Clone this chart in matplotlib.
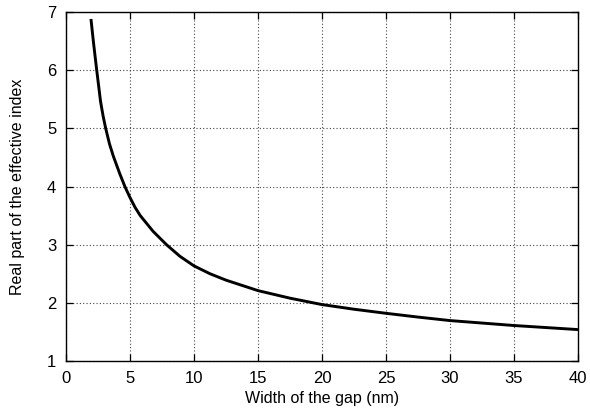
import matplotlib
matplotlib.use("Agg")
import matplotlib.pyplot as plt

plt.rcParams['font.family'] = ['Liberation Sans', 'DejaVu Sans']

# Real part of the effective index versus gap width
gap_nm = [1.95, 2.15, 2.4, 2.7, 2.9, 3.1, 3.4, 3.7, 4.2, 4.6, 5.0, 5.4, 5.8,
          6.8, 7.85, 8.9, 10.0, 11.25, 12.5, 15.0, 17.5, 20.0, 22.5, 25.0,
          27.5, 30.0, 35.0, 40.0]
n_eff = [6.88, 6.47, 6.0, 5.46, 5.21, 5.0, 4.73, 4.52, 4.22, 4.0, 3.81, 3.64,
         3.50, 3.23, 3.0, 2.80, 2.635, 2.50, 2.39, 2.21, 2.08, 1.97, 1.89,
         1.82, 1.755, 1.695, 1.61, 1.54]

x_ticks = [0, 5, 10, 15, 20, 25, 30, 35, 40]
y_ticks = [1, 2, 3, 4, 5, 6, 7]

fig = plt.figure(figsize=(5.9, 4.15), dpi=100)
ax = fig.add_axes([66 / 590, 54 / 415, 512 / 590, 349 / 415])

ax.plot(gap_nm, n_eff, color='black', linewidth=2.1,
        solid_capstyle='butt', solid_joinstyle='round')

ax.set_xlim(0, 40)
ax.set_ylim(1, 7)
ax.set_xticks(x_ticks)
ax.set_yticks(y_ticks)
ax.grid(True, color='#444444', linestyle=(0, (1, 2)), linewidth=0.8)
ax.tick_params(direction='in', length=5, width=0.9, top=True, right=True,
               labelsize=12, pad=7)
for s in ax.spines.values():
    s.set_linewidth(1.0)

ax.set_xlabel('Width of the gap (nm)', fontsize=11.5, labelpad=4)
ax.set_ylabel('Real part of the effective index', fontsize=11.5, labelpad=16)

fig.savefig('out.png', dpi=100)
